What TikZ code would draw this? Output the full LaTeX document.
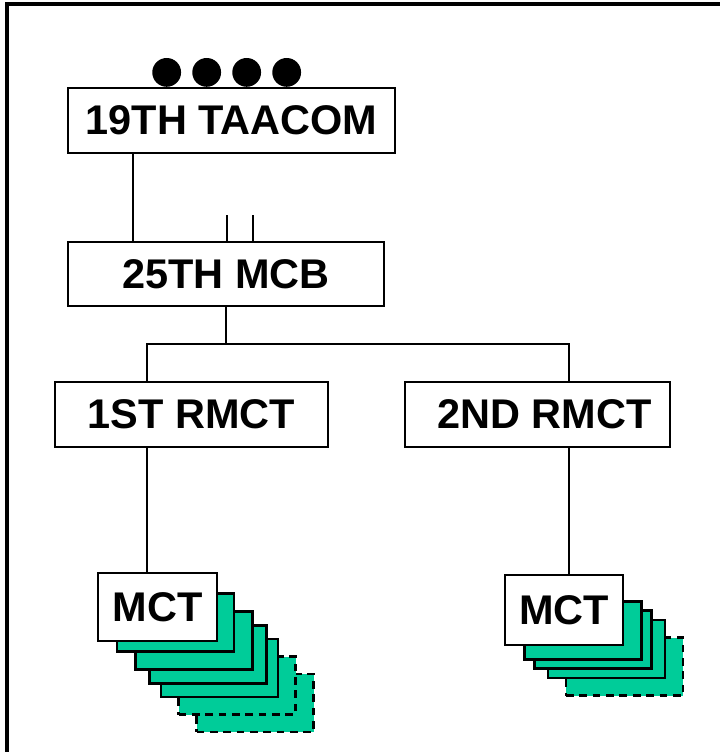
\documentclass[tikz,border=0pt]{standalone}
\usepackage{fontspec}
\setmainfont{Liberation Sans}
\usepackage{tikz}
\usetikzlibrary{positioning, calc}
\definecolor{mctgreen}{RGB}{0, 204, 153}

\begin{document}
\begin{tikzpicture}[
    unitbox/.style={draw, rectangle, line width=1.8pt, fill=white, font=\fontsize{29.5}{35}\selectfont\bfseries},
    card/.style={draw, rectangle, line width=1.8pt, fill=mctgreen, minimum width=2.925cm, minimum height=1.45cm},
    ghost/.style={card, dashed, dash pattern=on 5.5pt off 4pt},
    link/.style={line width=1.6pt}
  ]
    \useasboundingbox (0,0) rectangle (18,-18.8);

    % Frame
    \draw[line width=2.2pt] (0.175,-18.8) -- (0.175,-0.1) -- (18,-0.1);

    % Command
    \node[unitbox, minimum width=8.175cm, minimum height=1.625cm] (taacom) at (5.7875,-3.0125) {19TH TAACOM};
    \foreach \i in {0,1,2,3}
        \node[circle, fill=black, inner sep=0pt, minimum size=0.72cm] (dot\i) at (4.167+\i,-1.81) {};

    % Brigade
    \node[unitbox, minimum width=7.9cm, minimum height=1.6cm] (mcb) at (5.65,-6.85) {25TH MCB};
    \draw[link] ([xshift=0.025cm]mcb.north) -- ++(0,0.65);
    \draw[link] ([xshift=0.675cm]mcb.north) -- ++(0,0.65);

    % Regional teams
    \node[unitbox, minimum width=6.825cm, minimum height=1.625cm] (rmct1) at (4.7875,-10.3625) {1ST RMCT};
    \node[unitbox, minimum width=6.625cm, minimum height=1.625cm] (rmct2) at (13.4375,-10.3625) {\hspace{0.35cm}2ND RMCT};

    % Team stacks
    \foreach \x/\y [count=\k] in {6.375/-17.575, 5.925/-17.1375}
        \node[ghost] (lg\k) at (\x,\y) {};
    \foreach \x/\y [count=\k] in {5.4875/-16.7, 5.2/-16.3625, 4.85/-16.0125, 4.3875/-15.5625}
        \node[card] (lc\k) at (\x,\y) {};
    \node[unitbox, minimum width=2.975cm, minimum height=1.7cm] (mct1) at (3.9375,-15.175) {MCT};

    \node[ghost] (rg1) at (15.6125,-16.6625) {};
    \foreach \x/\y [count=\k] in {15.1625/-16.225, 14.825/-15.9875, 14.575/-15.7625}
        \node[card] (rc\k) at (\x,\y) {};
    \node[unitbox, minimum width=2.95cm, minimum height=1.75cm] (mct2) at (14.1,-15.25) {MCT};

    % Connections
    \coordinate (drop1) at (3.675,-8.6);
    \coordinate (drop2) at (14.225,-8.6);
    \draw[link] ([xshift=1.65cm]mcb.north west) -- ([xshift=1.65cm]mcb.north west |- taacom.south);
    \draw[link] (mcb.south) -- (mcb.south |- drop1);
    \draw[link] (rmct1.north -| drop1) -- (drop1) -- (drop2) -- (rmct2.north -| drop2);
    \draw[link] (rmct1.south -| drop1) -- (mct1.north -| drop1);
    \draw[link] (rmct2.south -| drop2) -- (mct2.north -| drop2);
\end{tikzpicture}
\end{document}
